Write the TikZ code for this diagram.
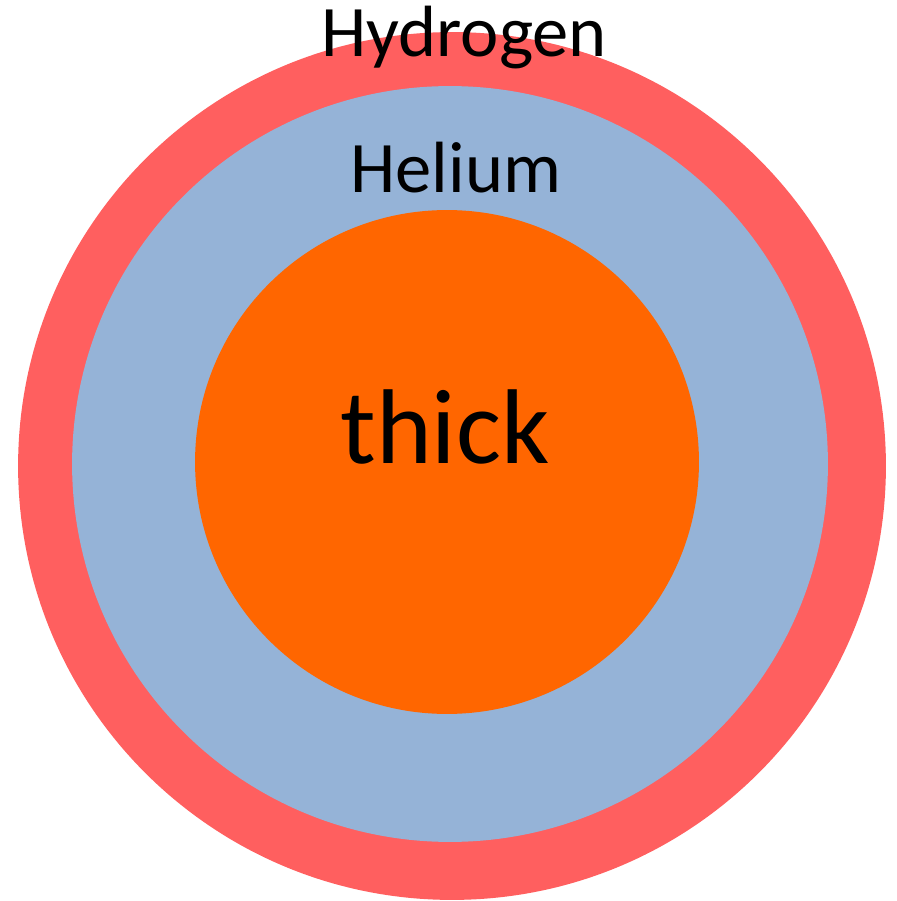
\documentclass[tikz,border=0pt]{standalone}
\usepackage{fontspec}
\setmainfont{Carlito}
\usepackage{tikz}
\definecolor{hydrogen}{RGB}{255,95,95}
\definecolor{helium}{RGB}{149,179,215}
\definecolor{core}{RGB}{255,102,0}
\tikzstyle{shell} = [circle, inner sep=0pt, draw=none]
\tikzstyle{tag} = [anchor=base, inner sep=0pt, font=\fontsize{41.3}{48}\selectfont]

\begin{document}
\begin{tikzpicture}[x=0.02cm, y=-0.02cm]
	\useasboundingbox (0,0) rectangle (896,901);
	\node[shell, fill=hydrogen, minimum size=17.36cm] (outer) at (452,466) {};
	\node[shell, fill=helium, minimum size=15.12cm] (middle) at (450,464) {};
	\node[shell, fill=core, minimum size=10.08cm] (inner) at (447,462) {};
	\node[tag] (hydrogenlabel) at (464,57) {Hydrogen};
	\node[tag] (heliumlabel) at (456,193) {Helium};
	\node[tag, font=\fontsize{60.5}{70}\selectfont] (corelabel) at (445,463) {thick};
\end{tikzpicture}
\end{document}
